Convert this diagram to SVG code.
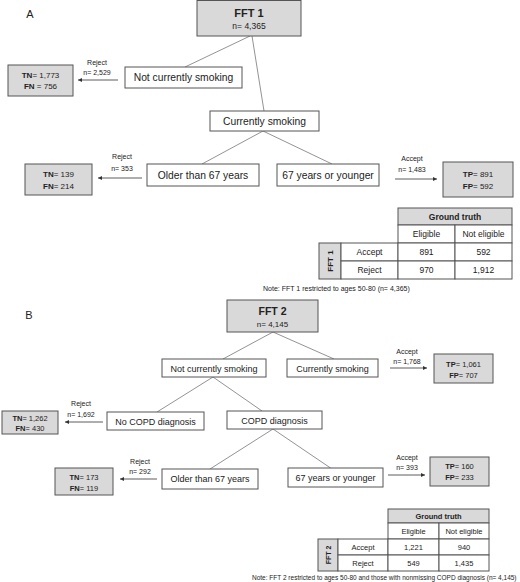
<svg xmlns="http://www.w3.org/2000/svg" width="520" height="582" viewBox="0 0 520 582">
<style>
text{font-family:"Liberation Sans",Arial,sans-serif;fill:#222;text-anchor:middle}
.b{font-weight:bold}
.node{fill:#fff;stroke:#555;stroke-width:1}
.gray{fill:#d9d9d9;stroke:#555;stroke-width:1}
.cell{fill:#fff;stroke:#555;stroke-width:1}
.edge{stroke:#777;stroke-width:0.8;fill:none}
.arr{stroke:#333;stroke-width:0.8;fill:none;marker-end:url(#ah)}
.lbl{font-size:7px}
.n10{font-size:10.3px}
.n9{font-size:9px}
.res{font-size:8px}
.note{font-size:7px;text-anchor:start}
</style>
<defs>
<marker id="ah" viewBox="0 0 6 6" refX="6" refY="3" markerWidth="4" markerHeight="4" orient="auto" markerUnits="userSpaceOnUse"><path d="M0,0 L6,3 L0,6 z" fill="#333"/></marker>
</defs>
<text x="30" y="18" style="font-size:11px">A</text>
<text x="29" y="319" style="font-size:11px">B</text>
<g id="connectors">
<line class="edge" x1="250" y1="36" x2="185" y2="67"/>
<line class="edge" x1="252" y1="36" x2="264" y2="111"/>
<line class="edge" x1="263" y1="131" x2="202" y2="164"/>
<line class="edge" x1="263" y1="131" x2="332" y2="164"/>
<line class="arr" x1="118" y1="80" x2="78" y2="80"/>
<line class="arr" x1="142" y1="178" x2="98" y2="178"/>
<line class="arr" x1="395" y1="179" x2="437" y2="179"/>
<line class="edge" x1="273" y1="332" x2="223" y2="359"/>
<line class="edge" x1="273" y1="332" x2="334" y2="359"/>
<line class="edge" x1="213" y1="377" x2="157" y2="412"/>
<line class="edge" x1="213" y1="377" x2="262" y2="411"/>
<line class="edge" x1="273" y1="429" x2="210" y2="469"/>
<line class="edge" x1="273" y1="429" x2="332" y2="469"/>
<line class="arr" x1="390" y1="368" x2="427" y2="368"/>
<line class="arr" x1="103" y1="422" x2="65" y2="422"/>
<line class="arr" x1="157" y1="479" x2="120" y2="479"/>
<line class="arr" x1="388" y1="475" x2="425" y2="475"/>
</g>
<g id="labels">
<text class="lbl" x="97" y="65">Reject</text>
<text class="lbl" x="97" y="75">n= 2,529</text>
<text class="lbl" x="122" y="159">Reject</text>
<text class="lbl" x="122" y="171">n= 353</text>
<text class="lbl" x="412" y="161">Accept</text>
<text class="lbl" x="412" y="172">n= 1,483</text>
<text class="lbl" x="407" y="354">Accept</text>
<text class="lbl" x="407" y="364">n= 1,768</text>
<text class="lbl" x="81" y="406">Reject</text>
<text class="lbl" x="81" y="417">n= 1,692</text>
<text class="lbl" x="140" y="464">Reject</text>
<text class="lbl" x="140" y="474">n= 292</text>
<text class="lbl" x="407" y="460">Accept</text>
<text class="lbl" x="407" y="470">n= 393</text>
</g>
<g id="fft1">
<rect class="gray" x="197" y="0.5" width="104" height="35.5"/>
<text class="b" x="249" y="17" style="font-size:11px">FFT 1</text>
<text x="249" y="29" style="font-size:8.5px">n= 4,365</text>
</g>
<g id="a-notsmoking">
<rect class="node" x="125" y="67" width="117" height="21"/>
<text class="n10" x="183.5" y="81">Not currently smoking</text>
</g>
<g id="a-res1">
<rect class="gray" x="8" y="65" width="65" height="31"/>
<text class="res" x="40.5" y="78"><tspan class="b">TN</tspan>= 1,773</text>
<text class="res" x="40.5" y="89"><tspan class="b">FN</tspan> = 756</text>
</g>
<g id="a-smoking">
<rect class="node" x="210" y="111" width="109" height="20"/>
<text class="n10" x="264.5" y="124.5">Currently smoking</text>
</g>
<g id="a-older">
<rect class="node" x="147" y="164" width="112" height="22"/>
<text class="n10" x="203" y="178.5">Older than 67 years</text>
</g>
<g id="a-younger">
<rect class="node" x="277" y="164" width="102" height="22"/>
<text class="n10" x="328" y="178.5">67 years or younger</text>
</g>
<g id="a-res2">
<rect class="gray" x="25" y="164" width="67" height="31"/>
<text class="res" x="58.5" y="177"><tspan class="b">TN</tspan>= 139</text>
<text class="res" x="58.5" y="189"><tspan class="b">FN</tspan>= 214</text>
</g>
<g id="a-res3">
<rect class="gray" x="443" y="162" width="70" height="35"/>
<text class="res" x="478" y="177"><tspan class="b">TP</tspan>= 891</text>
<text class="res" x="478" y="189"><tspan class="b">FP</tspan>= 592</text>
</g>
<g id="table-a" style="font-size:8.5px">
<rect class="gray" x="398" y="208" width="114" height="17"/>
<rect class="cell" x="398" y="225" width="57" height="18"/>
<rect class="cell" x="455" y="225" width="57" height="18"/>
<rect class="gray" x="319" y="243" width="22" height="36"/>
<rect class="cell" x="341" y="243" width="57" height="18"/>
<rect class="cell" x="398" y="243" width="57" height="18"/>
<rect class="cell" x="455" y="243" width="57" height="18"/>
<rect class="cell" x="341" y="261" width="57" height="18"/>
<rect class="cell" x="398" y="261" width="57" height="18"/>
<rect class="cell" x="455" y="261" width="57" height="18"/>
<text class="b" x="455" y="219.5" style="font-size:8.5px">Ground truth</text>
<text x="426.5" y="237" style="font-size:8.5px">Eligible</text>
<text x="483.5" y="237" style="font-size:8.5px">Not eligible</text>
<text class="b" transform="translate(333 261) rotate(-90)" style="font-size:8px">FFT 1</text>
<text x="369.5" y="255" style="font-size:8.5px">Accept</text>
<text x="426.5" y="255" style="font-size:8.5px">891</text>
<text x="483.5" y="255" style="font-size:8.5px">592</text>
<text x="369.5" y="273" style="font-size:8.5px">Reject</text>
<text x="426.5" y="273" style="font-size:8.5px">970</text>
<text x="483.5" y="273" style="font-size:8.5px">1,912</text>
</g>
<text class="note" x="263" y="291">Note:  FFT 1 restricted to ages 50-80 (n= 4,365)</text>
<g id="fft2">
<rect class="gray" x="227" y="300" width="91" height="32"/>
<text class="b" x="272.5" y="315" style="font-size:10.5px">FFT 2</text>
<text x="272.5" y="327" style="font-size:8px">n= 4,145</text>
</g>
<g id="b-notsmoking">
<rect class="node" x="162" y="359" width="104" height="18"/>
<text class="n9" x="214" y="371.5">Not currently smoking</text>
</g>
<g id="b-smoking">
<rect class="node" x="287" y="359" width="91" height="18"/>
<text class="n9" x="332.5" y="371.5">Currently smoking</text>
</g>
<g id="b-res1">
<rect class="gray" x="434" y="354" width="59" height="29"/>
<text class="lbl" x="463.5" y="367" style="font-size:7.5px"><tspan class="b">TP</tspan>= 1,061</text>
<text class="lbl" x="463.5" y="378" style="font-size:7.5px"><tspan class="b">FP</tspan>= 707</text>
</g>
<g id="b-nocopd">
<rect class="node" x="107" y="412" width="97" height="18"/>
<text class="n9" x="155.5" y="424.5">No COPD diagnosis</text>
</g>
<g id="b-copd">
<rect class="node" x="227" y="411" width="95" height="18"/>
<text class="n9" x="274.5" y="423.5">COPD diagnosis</text>
</g>
<g id="b-res2">
<rect class="gray" x="2" y="411" width="56" height="23"/>
<text class="lbl" x="30" y="421" style="font-size:7.5px"><tspan class="b">TN</tspan>= 1,262</text>
<text class="lbl" x="30" y="431" style="font-size:7.5px"><tspan class="b">FN</tspan>= 430</text>
</g>
<g id="b-older">
<rect class="node" x="162" y="469" width="96" height="20"/>
<text class="n9" x="210" y="482">Older than 67 years</text>
</g>
<g id="b-younger">
<rect class="node" x="288" y="468" width="95" height="19"/>
<text class="n9" x="335.5" y="481">67 years or younger</text>
</g>
<g id="b-res3">
<rect class="gray" x="55" y="468" width="58" height="27"/>
<text class="lbl" x="84" y="480" style="font-size:7.5px"><tspan class="b">TN</tspan>= 173</text>
<text class="lbl" x="84" y="491" style="font-size:7.5px"><tspan class="b">FN</tspan>= 119</text>
</g>
<g id="b-res4">
<rect class="gray" x="430" y="457" width="59" height="29"/>
<text class="lbl" x="459.5" y="469" style="font-size:7.5px"><tspan class="b">TP</tspan>= 160</text>
<text class="lbl" x="459.5" y="480" style="font-size:7.5px"><tspan class="b">FP</tspan>= 233</text>
</g>
<g id="table-b">
<rect class="gray" x="388" y="509" width="101" height="14"/>
<rect class="cell" x="388" y="523" width="51" height="16"/>
<rect class="cell" x="439" y="523" width="50" height="16"/>
<rect class="gray" x="318" y="539" width="20" height="32"/>
<rect class="cell" x="338" y="539" width="50" height="16"/>
<rect class="cell" x="388" y="539" width="51" height="16"/>
<rect class="cell" x="439" y="539" width="50" height="16"/>
<rect class="cell" x="338" y="555" width="50" height="16"/>
<rect class="cell" x="388" y="555" width="51" height="16"/>
<rect class="cell" x="439" y="555" width="50" height="16"/>
<text class="b" x="438.5" y="519" style="font-size:7.5px">Ground truth</text>
<text x="413.5" y="534" style="font-size:7.5px">Eligible</text>
<text x="464" y="534" style="font-size:7.5px">Not eligible</text>
<text class="b" transform="translate(331 555) rotate(-90)" style="font-size:7px">FFT 2</text>
<text x="363" y="550" style="font-size:7.5px">Accept</text>
<text x="413.5" y="550" style="font-size:7.5px">1,221</text>
<text x="464" y="550" style="font-size:7.5px">940</text>
<text x="363" y="566" style="font-size:7.5px">Reject</text>
<text x="413.5" y="566" style="font-size:7.5px">549</text>
<text x="464" y="566" style="font-size:7.5px">1,435</text>
</g>
<text class="note" x="252" y="580" style="font-size:6.5px">Note:  FFT 2 restricted to ages 50-80 and those with nonmissing COPD diagnosis  (n= 4,145)</text>
</svg>
